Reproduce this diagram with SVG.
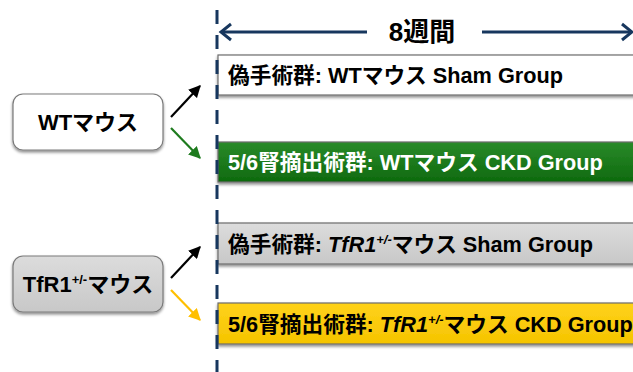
<svg xmlns="http://www.w3.org/2000/svg" width="633" height="372" viewBox="0 0 633 372">
<style>
text{font-family:"Liberation Sans","Noto Sans CJK JP",sans-serif;font-weight:bold}
.bar{stroke:#6d6d6d;stroke-width:1.2}
.bt{font-size:21.7px}
.box{stroke:#7a7a7a;stroke-width:1.2}
.bx{font-size:22px}
</style>
<defs>
<filter id="sh" x="-10%" y="-20%" width="120%" height="150%">
<feGaussianBlur in="SourceAlpha" stdDeviation="1.5"/>
<feOffset dx="0" dy="2"/>
<feComponentTransfer><feFuncA type="linear" slope="0.45"/></feComponentTransfer>
<feMerge><feMergeNode/><feMergeNode in="SourceGraphic"/></feMerge>
</filter>
<linearGradient id="gg" x1="0" y1="0" x2="0" y2="1"><stop offset="0" stop-color="#2a8a2a"/><stop offset="1" stop-color="#0e6a0e"/></linearGradient>
<linearGradient id="gy" x1="0" y1="0" x2="0" y2="1"><stop offset="0" stop-color="#ffd21a"/><stop offset="1" stop-color="#f5c400"/></linearGradient>
<linearGradient id="gr" x1="0" y1="0" x2="0" y2="1"><stop offset="0" stop-color="#dcdcdc"/><stop offset="1" stop-color="#c8c8c8"/></linearGradient>
<marker id="ab" viewBox="0 0 10 10" refX="9" refY="5" markerWidth="5.5" markerHeight="5.5" orient="auto"><path d="M0,0 L10,5 L0,10 z" fill="#000"/></marker>
<marker id="ag" viewBox="0 0 10 10" refX="9" refY="5" markerWidth="5.5" markerHeight="5.5" orient="auto"><path d="M0,0 L10,5 L0,10 z" fill="#1e7b1e"/></marker>
<marker id="ay" viewBox="0 0 10 10" refX="9" refY="5" markerWidth="5.5" markerHeight="5.5" orient="auto"><path d="M0,0 L10,5 L0,10 z" fill="#ffbf00"/></marker>
</defs>
<rect width="633" height="372" fill="#fff"/>

<g id="bar-sham-wt">
<rect class="bar" x="218" y="55" width="430" height="40" fill="#fff" filter="url(#sh)"/>
<text class="bt" x="228" y="83" fill="#000">偽手術群: WTマウス Sham Group</text>
</g>
<g id="bar-ckd-wt">
<rect class="bar" x="218" y="142" width="430" height="40" fill="url(#gg)" filter="url(#sh)"/>
<text class="bt" x="228" y="170" fill="#fff">5/6腎摘出術群: WTマウス CKD Group</text>
</g>
<g id="bar-sham-tfr">
<rect class="bar" x="218" y="223" width="430" height="41" fill="url(#gr)" filter="url(#sh)"/>
<text class="bt" x="228" y="252" fill="#000">偽手術群: <tspan font-style="italic">TfR1</tspan><tspan font-size="13px" dy="-8" font-style="italic">+/-</tspan><tspan dy="8">マウス Sham Group</tspan></text>
</g>
<g id="bar-ckd-tfr">
<rect class="bar" x="218" y="303" width="430" height="41" fill="url(#gy)" filter="url(#sh)"/>
<text class="bt" x="228" y="332" fill="#000">5/6腎摘出術群: <tspan font-style="italic">TfR1</tspan><tspan font-size="13px" dy="-8" font-style="italic">+/-</tspan><tspan dy="8">マウス CKD Group</tspan></text>
</g>

<g id="node-wt">
<rect class="box" x="13" y="94" width="150" height="56" rx="10" fill="#fff" filter="url(#sh)"/>
<text class="bx" x="88" y="130" text-anchor="middle" fill="#000">WTマウス</text>
</g>
<g id="node-tfr">
<rect class="box" x="13" y="256" width="150" height="56" rx="10" fill="url(#gr)" filter="url(#sh)"/>
<text class="bx" x="88" y="292" text-anchor="middle" fill="#000">TfR1<tspan font-size="13px" dy="-8">+/-</tspan><tspan dy="8">マウス</tspan></text>
</g>

<g id="timeline">
<line x1="217" y1="10" x2="217" y2="372" stroke="#17375e" stroke-width="3" stroke-dasharray="14,11"/>
<line x1="222" y1="32" x2="367" y2="32" stroke="#17375e" stroke-width="3"/>
<line x1="482" y1="32" x2="631" y2="32" stroke="#17375e" stroke-width="3"/>
<polyline points="231,24 221,32 231,40" fill="none" stroke="#17375e" stroke-width="3"/>
<polyline points="622,24 632,32 622,40" fill="none" stroke="#17375e" stroke-width="3"/>
<text x="422" y="41" font-size="26px" text-anchor="middle" fill="#000">8週間</text>
</g>

<g id="connectors" stroke-width="2.2" fill="none">
<line x1="171" y1="117" x2="200" y2="86" stroke="#000" marker-end="url(#ab)"/>
<line x1="171" y1="128" x2="200" y2="158" stroke="#1e7b1e" marker-end="url(#ag)"/>
<line x1="171" y1="278" x2="200" y2="247" stroke="#000" marker-end="url(#ab)"/>
<line x1="171" y1="290" x2="200" y2="320" stroke="#ffbf00" marker-end="url(#ay)"/>
</g>
</svg>
